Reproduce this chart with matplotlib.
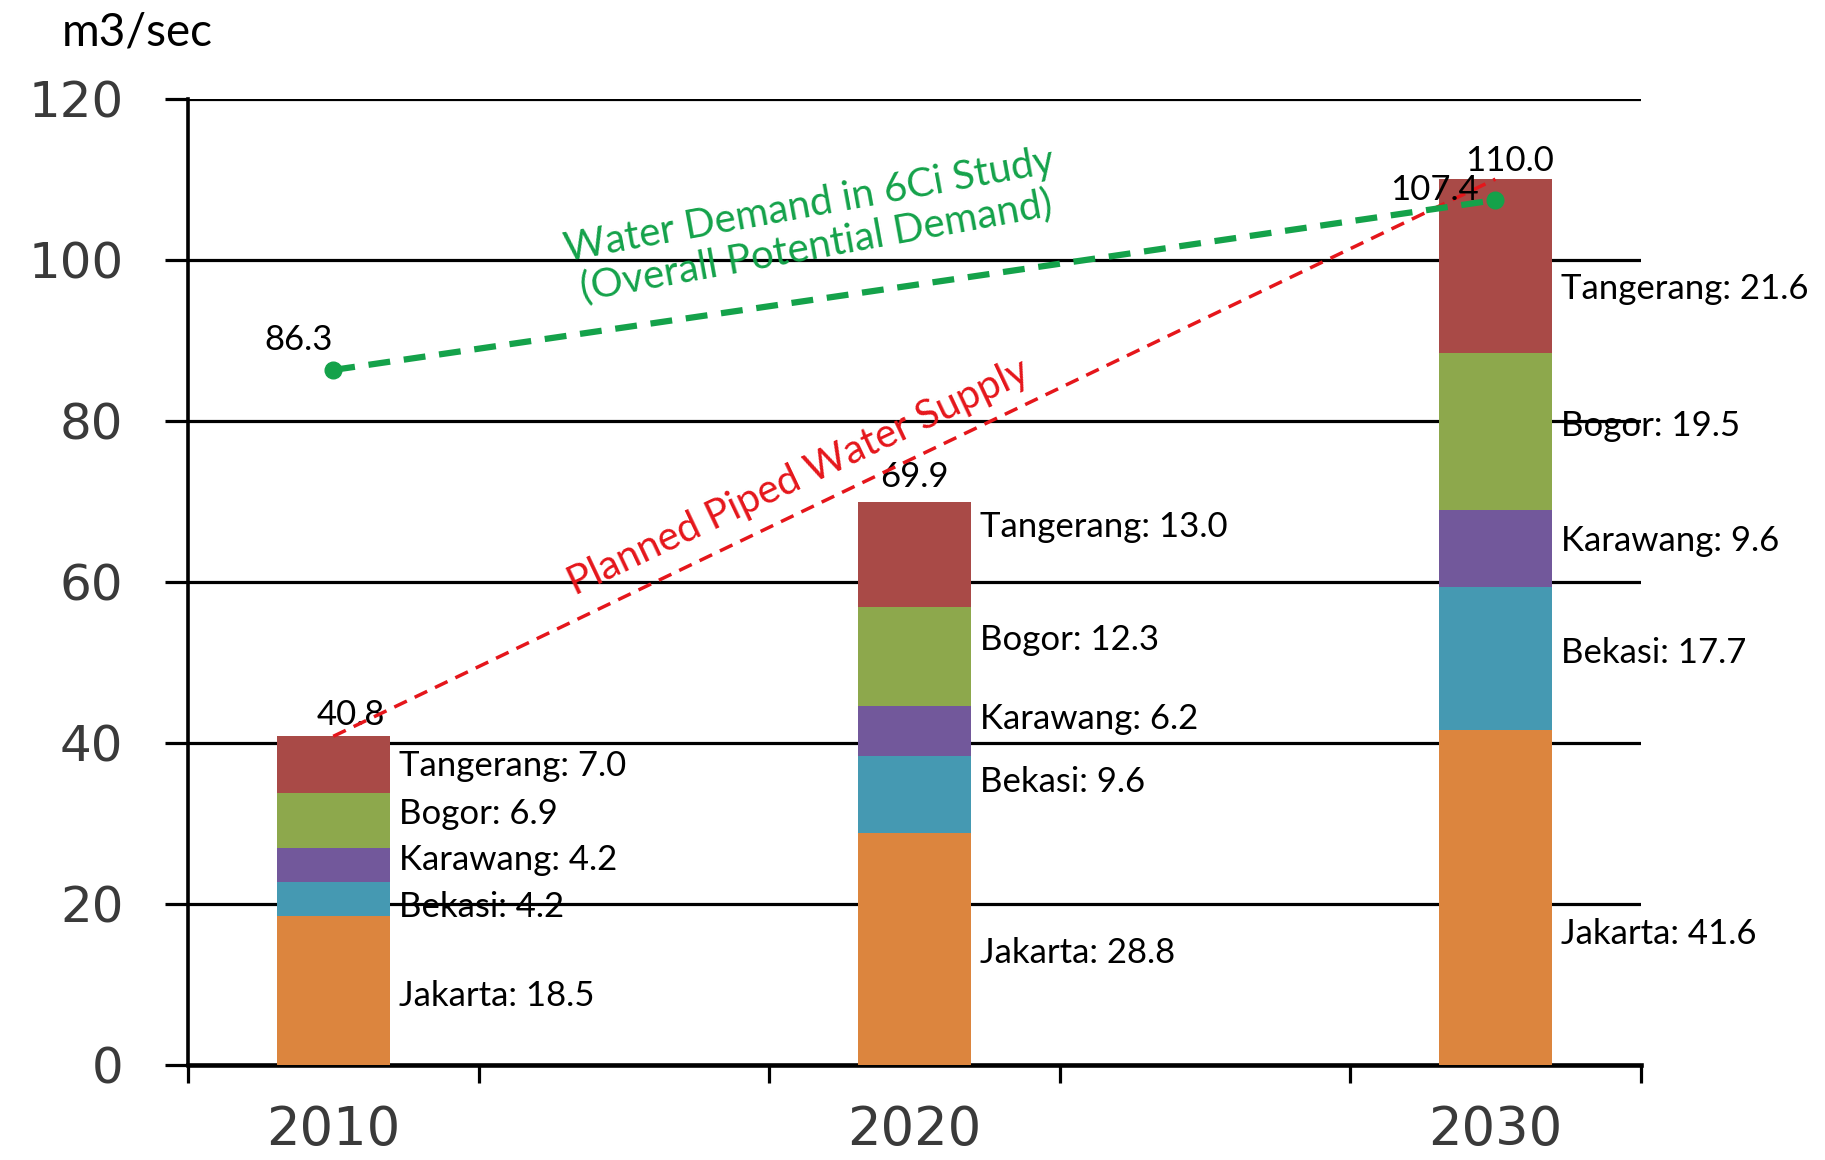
import matplotlib
matplotlib.use("Agg")
import matplotlib.pyplot as plt

# data (m3/sec)
years = ["2010", "2020", "2030"]
regions = ["Jakarta", "Bekasi", "Karawang", "Bogor", "Tangerang"]
jakarta = [18.5, 28.8, 41.6]
bekasi = [4.2, 9.6, 17.7]
karawang = [4.2, 6.2, 9.6]
bogor = [6.9, 12.3, 19.5]
tangerang = [7.0, 13.0, 21.6]
totals = [40.8, 69.9, 110.0]
demand_years = ["2010", "2030"]
demand = [86.3, 107.4]

colors = ["#DC853E", "#4599B2", "#72589B", "#8DA84C", "#A94A47"]
series = [jakarta, bekasi, karawang, bogor, tangerang]

# label heights (segment label y, in data units) – layout only
label_y = [[8.6, 19.6, 25.5, 31.1, 37.1],
           [13.9, 35.1, 43.0, 52.8, 66.8],
           [16.2, 51.2, 65.1, 79.3, 96.3]]

lab_font = "Lato"
lab_size = 25

fig = plt.figure(figsize=(18.25, 11.6), dpi=100)
ax = fig.add_axes([0.103, 0.082, 0.796, 0.833])

xpos = [0, 2, 4]
ypos = {"2010": 0, "2020": 2, "2030": 4}
w = 0.39
bottom = [0, 0, 0]
for vals, c in zip(series, colors):
    ax.bar(xpos, vals, w, bottom=bottom, color=c, zorder=3)
    bottom = [b + v for b, v in zip(bottom, vals)]

for i, x in enumerate(xpos):
    for j, r in enumerate(regions):
        ax.text(x + w / 2 + 0.03, label_y[i][j], "%s: %.1f" % (r, series[j][i]),
                fontsize=lab_size, family=lab_font, va="center", ha="left", zorder=5)

# totals above bars
ax.text(0.06, 43.4, "%.1f" % totals[0], fontsize=lab_size, family=lab_font, ha="center", va="center", zorder=5)
ax.text(2.0, 73.0, "%.1f" % totals[1], fontsize=lab_size, family=lab_font, ha="center", va="center", zorder=5)
ax.text(4.05, 112.3, "%.1f" % totals[2], fontsize=lab_size, family=lab_font, ha="center", va="center", zorder=5)

# planned piped water supply (red dashed)
ax.plot([xpos[0], xpos[-1]], [totals[0], totals[-1]], color="#E5161B", lw=2.5,
        dashes=(4, 2.5), zorder=6)
ax.text(1.6, 73.0, "Planned Piped Water Supply", color="#E5161B", fontsize=29,
        family=lab_font, rotation=25.3, rotation_mode="anchor", ha="center", va="center", zorder=6)

# water demand (green dashed)
dx = [ypos[y] for y in demand_years]
ax.plot(dx, demand, color="#14A24A", lw=4.5, dashes=(3.5, 2.2), marker="o", ms=12, zorder=6)
ax.text(-0.12, 90.0, "%.1f" % demand[0], fontsize=lab_size, family=lab_font, ha="center", va="center", zorder=6)
ax.text(3.79, 108.7, "%.1f" % demand[1], fontsize=lab_size, family=lab_font, ha="center", va="center", zorder=6)
ax.text(1.65, 104.2, "Water Demand in 6Ci Study\n(Overall Potential Demand)", color="#14A24A",
        fontsize=29, family=lab_font, rotation=10.3, rotation_mode="anchor",
        ha="center", va="center", linespacing=1.15, zorder=6)

ax.set_xlim(-0.5, 4.5)
ax.set_ylim(0, 120)
ax.set_yticks(range(0, 121, 20))
ax.yaxis.grid(True, color="black", lw=2.3)
ax.set_axisbelow(True)
ax.tick_params(axis="y", length=16.5, width=2.3, pad=30, labelsize=36, labelcolor="#3a3a3a")

ax.set_xticks([-0.5, 0.5, 1.5, 2.5, 3.5, 4.5])
ax.set_xticklabels([])
ax.tick_params(axis="x", which="major", length=13, width=2.3, direction="out")
ax.set_xticks(xpos, minor=True)
ax.set_xticklabels(years, minor=True)
ax.tick_params(axis="x", which="minor", length=0, pad=28, labelsize=38, labelcolor="#3a3a3a")

for s in ["top", "right"]:
    ax.spines[s].set_visible(False)
ax.spines["left"].set_linewidth(2.6)
ax.spines["bottom"].set_linewidth(3.3)

fig.text(0.034, 0.972, "m3/sec", fontsize=33, family=lab_font, ha="left", va="center")

fig.savefig("out.png", dpi=100, facecolor="white")
